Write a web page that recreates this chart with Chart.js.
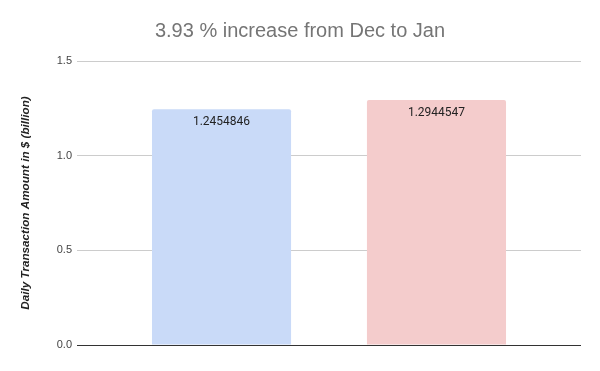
<!DOCTYPE html>
<html>
<head>
<meta charset="utf-8">
<script src="https://cdn.jsdelivr.net/npm/chart.js@4"></script>
<style>
  html, body { margin: 0; padding: 0; background: #fff; }
  #chart-wrap { width: 600px; height: 371px; }
</style>
</head>
<body>
<div id="chart-wrap"><canvas id="chart-transacoes" width="600" height="371"></canvas></div>
<script>
// dados
const meses = ["Dec", "Jan"];
const valores = [1.2454846, 1.2944547];
const cores = ["#c9daf8", "#f4cccc"];
const yTicks = [0, 0.5, 1.0, 1.5];
const titulo = "3.93 % increase from Dec to Jan";
const tituloEixoY = "Daily Transaction Amount in $ (billion)";

// rótulo dentro da barra, no topo
const rotulosBarras = {
    id: "rotulosBarras",
    afterDatasetsDraw(chart) {
        const ctx = chart.ctx;
        ctx.save();
        ctx.font = "12px Roboto";
        ctx.fillStyle = "#222";
        ctx.textAlign = "center";
        ctx.textBaseline = "middle";
        chart.data.datasets.forEach((ds, i) => {
            const meta = chart.getDatasetMeta(i);
            meta.data.forEach((bar, j) => {
                ctx.fillText(String(ds.data[j]), bar.x, bar.y + 13);
            });
        });
        ctx.restore();
    }
};

const ctx = document.getElementById("chart-transacoes").getContext("2d");
new Chart(ctx, {
    type: "bar",
    data: {
        labels: [""],
        datasets: meses.map((m, i) => ({
            label: m,
            data: [valores[i]],
            backgroundColor: cores[i],
            borderRadius: 2,
            borderSkipped: "bottom",
            categoryPercentage: 0.853,
            barPercentage: 0.647
        }))
    },
    options: {
        responsive: false,
        animation: false,
        layout: { padding: 0 },
        plugins: {
            legend: { display: false },
            tooltip: { enabled: false },
            title: {
                display: true,
                text: titulo,
                color: "#757575",
                font: { family: "Arial, 'Liberation Sans'", size: 20, weight: "normal" },
                padding: { top: 19, bottom: 18 }
            }
        },
        scales: {
            x: {
                grid: { display: false },
                border: { display: false },
                ticks: { display: false },
                afterFit: (scale) => { scale.height = 26; }
            },
            y: {
                min: 0,
                max: 1.5,
                afterBuildTicks: (scale) => { scale.ticks = yTicks.map(v => ({ value: v })); },
                afterFit: (scale) => { scale.width = 77; },
                border: { display: false },
                grid: {
                    drawTicks: false,
                    color: (c) => c.tick && c.tick.value === 0 ? "#333333" : "#cccccc",
                    lineWidth: 1
                },
                ticks: {
                    padding: 5,
                    color: "#444",
                    font: { family: "Arial, 'Liberation Sans'", size: 11 },
                    callback: (v) => Number(v).toFixed(1)
                },
                title: {
                    display: true,
                    text: tituloEixoY,
                    color: "#222",
                    font: { family: "Arial, 'Liberation Sans'", size: 11.7, style: "italic", weight: "bold" },
                    padding: { top: 19, bottom: 0 }
                }
            },
            // eixo vazio à direita, só para reservar a margem
            yDireita: {
                position: "right",
                grid: { display: false },
                border: { display: false },
                ticks: { display: false },
                afterFit: (scale) => { scale.width = 19; }
            }
        }
    },
    plugins: [rotulosBarras]
});
</script>
</body>
</html>
